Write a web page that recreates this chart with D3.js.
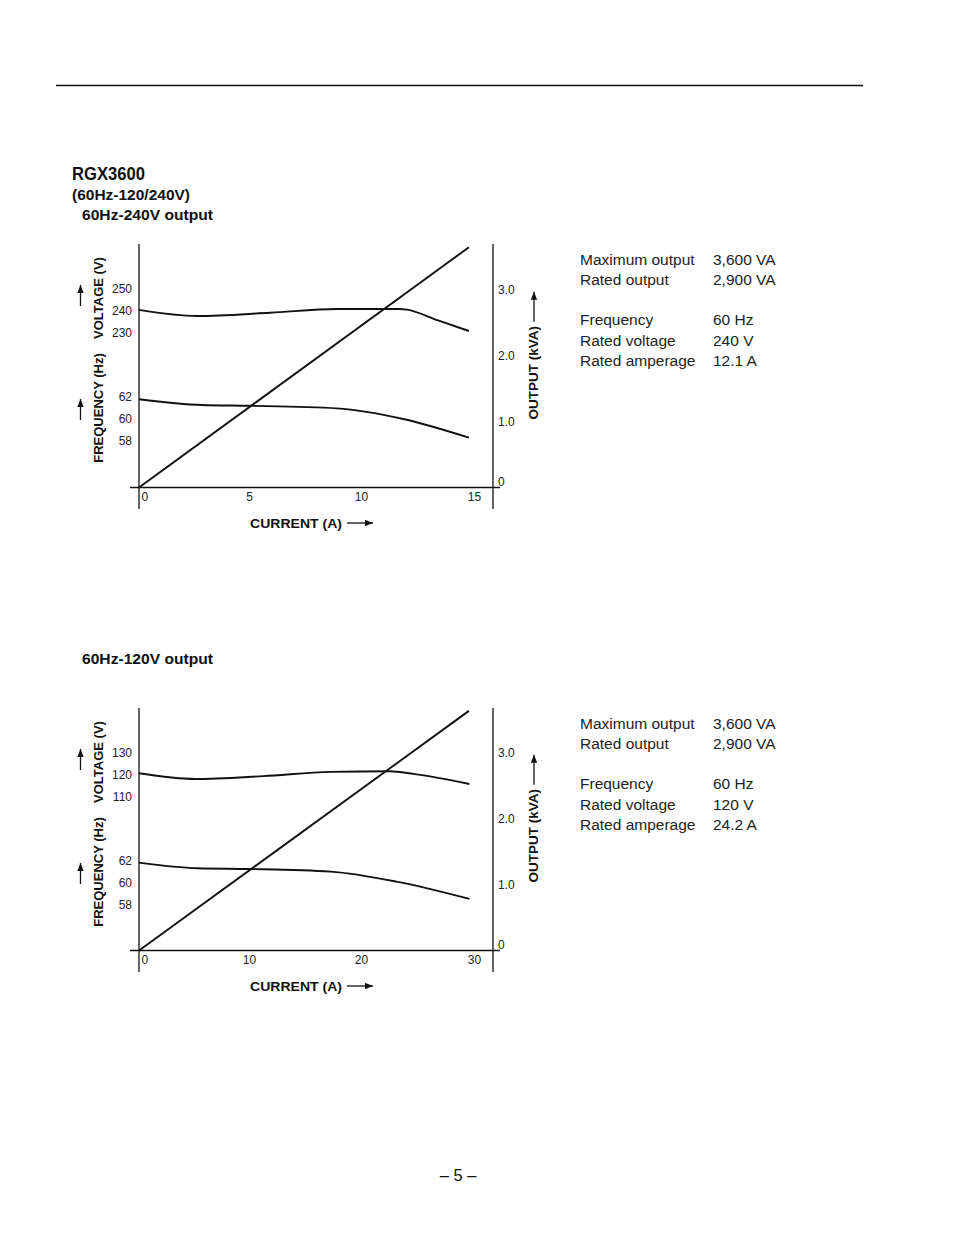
<!DOCTYPE html>
<html>
<head>
<meta charset="utf-8">
<script src="https://cdn.jsdelivr.net/npm/d3@7"></script>
<style>
  html, body { margin: 0; padding: 0; background: #fff; }
  svg { display: block; font-family: "Liberation Sans", Arial, Helvetica, sans-serif; }
</style>
</head>
<body>
<svg id="page" width="954" height="1235"></svg>
<script>
// ---------------- DATA ----------------
const currentTicks240 = [0, 5, 10, 15];
const currentTicks120 = [0, 10, 20, 30];
const voltageTicks240 = [230, 240, 250];
const voltageTicks120 = [110, 120, 130];
const frequencyTicks = [58, 60, 62];
const outputTicks = [0, 1.0, 2.0, 3.0];

// [current (A), voltage (V)]
const voltage240 = [[0, 240.5], [2.6, 237.7], [5.85, 239.2], [8.84, 240.9], [11.65, 240.9], [11.96, 240.6], [13.35, 235.7], [14.73, 230.9]];
// [current (A), frequency (Hz)]
const frequency240 = [[0, 61.8], [2.8, 61.27], [4.96, 61.2], [8.84, 60.97], [11.8, 60.0], [14.73, 58.3]];
// [current (A), output (kVA)]
const output240 = [[0, 0], [14.73, 3.65]];

const voltage120 = [[0, 120.8], [5.0, 118.2], [11.1, 119.5], [17.1, 121.4], [22.4, 121.7], [24.5, 120.5], [29.5, 115.9]];
const frequency120 = [[0, 61.85], [5.2, 61.34], [9.9, 61.27], [17.1, 61.03], [23.0, 60.12], [29.5, 58.55]];
const output120 = [[0, 0], [29.46, 3.64]];

const specLabels = ["Maximum output", "Rated output", "Frequency", "Rated voltage", "Rated amperage"];
const specValues240 = ["3,600 VA", "2,900 VA", "60 Hz", "240 V", "12.1 A"];
const specValues120 = ["3,600 VA", "2,900 VA", "60 Hz", "120 V", "24.2 A"];

// ---------------- DRAW ----------------
const svg = d3.select("#page");
svg.append("rect").attr("width", 954).attr("height", 1235).attr("fill", "#fff");

const defs = svg.append("defs");
defs.append("marker").attr("id", "ah")
  .attr("viewBox", "0 0 10 10").attr("refX", 10).attr("refY", 5)
  .attr("markerWidth", 10).attr("markerHeight", 8)
  .attr("markerUnits", "userSpaceOnUse")
  .attr("orient", "auto")
  .append("path").attr("d", "M0,1 L10,5 L0,9 Z").attr("fill", "#111");

// top rule
svg.append("line").attr("x1", 56).attr("x2", 863).attr("y1", 85.5).attr("y2", 85.5)
  .attr("stroke", "#111").attr("stroke-width", 1.3);

svg.append("text").attr("x", 72).attr("y", 180).text("RGX3600")
  .attr("font-size", 18).attr("font-weight", "bold").attr("fill", "#111")
  .attr("textLength", 73).attr("lengthAdjust", "spacingAndGlyphs");
svg.append("text").attr("x", 72).attr("y", 200).text("(60Hz-120/240V)")
  .attr("font-size", 15).attr("font-weight", "bold").attr("fill", "#111")
  .attr("textLength", 118).attr("lengthAdjust", "spacingAndGlyphs");

function arrow(x1, y1, x2, y2) {
  svg.append("line").attr("x1", x1).attr("y1", y1).attr("x2", x2).attr("y2", y2)
    .attr("stroke", "#111").attr("stroke-width", 1.3).attr("marker-end", "url(#ah)");
}

function drawChart(cfg) {
  const { top, bottom, axisY, left, right, subtitle, subtitleY,
          currentTicks, currentMax, voltTicks, voltDomain, voltRange,
          freqRange, outRange, voltage, frequency, output, specValues, specY } = cfg;

  svg.append("text").attr("x", 82).attr("y", subtitleY).text(subtitle)
    .attr("font-size", 15).attr("font-weight", "bold").attr("fill", "#111")
    .attr("textLength", 131).attr("lengthAdjust", "spacingAndGlyphs");

  const x = d3.scaleLinear().domain([0, currentMax]).range([left, 475]);
  const yV = d3.scaleLinear().domain(voltDomain).range(voltRange);
  const yF = d3.scaleLinear().domain([58, 62]).range(freqRange);
  const yO = d3.scaleLinear().domain([0, 3]).range(outRange);

  const g = svg.append("g");
  // frame lines
  g.append("line").attr("x1", left).attr("x2", left).attr("y1", top).attr("y2", bottom)
    .attr("stroke", "#111").attr("stroke-width", 1.3);
  g.append("line").attr("x1", right).attr("x2", right).attr("y1", top).attr("y2", bottom)
    .attr("stroke", "#111").attr("stroke-width", 1.3);
  g.append("line").attr("x1", 130).attr("x2", 500).attr("y1", axisY).attr("y2", axisY)
    .attr("stroke", "#111").attr("stroke-width", 1.3);

  const tickFont = 12;
  // x axis labels (no tick marks)
  const xAxis = d3.axisBottom(x).tickValues(currentTicks).tickSize(0).tickPadding(5)
    .tickFormat(d3.format("d"));
  const gx = g.append("g").attr("transform", `translate(0,${axisY})`).call(xAxis);
  gx.select(".domain").remove();
  gx.selectAll("text").attr("font-size", tickFont).attr("fill", "#222")
    .attr("font-family", "Liberation Sans, Arial, sans-serif")
    .attr("text-anchor", d => d === 0 ? "start" : "middle")
    .attr("dx", d => d === 0 ? 2 : (d === currentTicks[currentTicks.length - 1] ? -1 : -2));

  // left voltage axis labels
  const vAxis = d3.axisLeft(yV).tickValues(voltTicks).tickSize(0).tickPadding(7)
    .tickFormat(d3.format("d"));
  const gv = g.append("g").attr("transform", `translate(${left},0)`).call(vAxis);
  gv.select(".domain").remove();
  gv.selectAll("text").attr("font-size", tickFont).attr("fill", "#222")
    .attr("font-family", "Liberation Sans, Arial, sans-serif");

  const fAxis = d3.axisLeft(yF).tickValues(frequencyTicks).tickSize(0).tickPadding(7)
    .tickFormat(d3.format("d"));
  const gf = g.append("g").attr("transform", `translate(${left},0)`).call(fAxis);
  gf.select(".domain").remove();
  gf.selectAll("text").attr("font-size", tickFont).attr("fill", "#222")
    .attr("font-family", "Liberation Sans, Arial, sans-serif");

  // right output axis labels
  const oAxis = d3.axisRight(yO).tickValues(outputTicks).tickSize(0).tickPadding(5)
    .tickFormat(d => d === 0 ? "0" : d3.format(".1f")(d));
  const go = g.append("g").attr("transform", `translate(${right},0)`).call(oAxis);
  go.select(".domain").remove();
  go.selectAll("text").attr("font-size", tickFont).attr("fill", "#222")
    .attr("font-family", "Liberation Sans, Arial, sans-serif")
    .attr("dy", d => d === 0 ? "-0.2em" : "0.32em");

  // axis titles
  const midV = (voltRange[0] + voltRange[1]) / 2 - 13;
  const midF = (freqRange[0] + freqRange[1]) / 2 - 11;
  g.append("text").attr("transform", `translate(103,${midV}) rotate(-90)`)
    .attr("text-anchor", "middle").attr("font-size", 13).attr("font-weight", "bold")
    .attr("fill", "#111").text("VOLTAGE (V)");
  g.append("text").attr("transform", `translate(103,${midF}) rotate(-90)`)
    .attr("text-anchor", "middle").attr("font-size", 13).attr("font-weight", "bold")
    .attr("fill", "#111").text("FREQUENCY (Hz)");
  arrow(80.5, voltRange[1] + 17, 80.5, voltRange[1] - 4);
  arrow(80.5, freqRange[1] + 23, 80.5, freqRange[1] + 2);

  const midO = (outRange[0] + outRange[1]) / 2 - 16;
  g.append("text").attr("transform", `translate(538,${midO}) rotate(-90)`)
    .attr("text-anchor", "middle").attr("font-size", 13.5).attr("font-weight", "bold")
    .attr("fill", "#111").text("OUTPUT (kVA)");
  arrow(534, midO - 51, 534, midO - 81);

  g.append("text").attr("x", 250).attr("y", axisY + 40).attr("font-size", 13.5)
    .attr("font-weight", "bold").attr("fill", "#111").text("CURRENT (A)")
    .attr("textLength", 92).attr("lengthAdjust", "spacingAndGlyphs");
  arrow(347, axisY + 35.5, 373, axisY + 35.5);

  // curves
  const lineV = d3.line().x(d => x(d[0])).y(d => yV(d[1])).curve(d3.curveMonotoneX);
  const lineF = d3.line().x(d => x(d[0])).y(d => yF(d[1])).curve(d3.curveMonotoneX);
  const lineO = d3.line().x(d => x(d[0])).y(d => yO(d[1]));
  [[voltage, lineV], [frequency, lineF], [output, lineO]].forEach(([data, fn]) => {
    g.append("path").attr("d", fn(data)).attr("fill", "none")
      .attr("stroke", "#111").attr("stroke-width", 1.9).attr("stroke-linejoin", "round");
  });

  // spec table
  const rowOffsets = [0, 20, 60, 81, 101];
  specLabels.forEach((lab, i) => {
    svg.append("text").attr("x", 580).attr("y", specY + rowOffsets[i]).text(lab)
      .attr("font-size", 15.5).attr("fill", "#222");
    svg.append("text").attr("x", 713).attr("y", specY + rowOffsets[i]).text(specValues[i])
      .attr("font-size", 15.5).attr("fill", "#222");
  });
}

drawChart({
  top: 244, bottom: 509, axisY: 487.5, left: 139, right: 493,
  subtitle: "60Hz-240V output", subtitleY: 220,
  currentTicks: currentTicks240, currentMax: 15,
  voltTicks: voltageTicks240, voltDomain: [230, 250], voltRange: [333, 289],
  freqRange: [441, 397], outRange: [487.5, 290],
  voltage: voltage240, frequency: frequency240, output: output240,
  specValues: specValues240, specY: 265
});

drawChart({
  top: 708, bottom: 972, axisY: 950.5, left: 139, right: 493,
  subtitle: "60Hz-120V output", subtitleY: 664,
  currentTicks: currentTicks120, currentMax: 30,
  voltTicks: voltageTicks120, voltDomain: [110, 130], voltRange: [797, 753],
  freqRange: [905, 861], outRange: [950.5, 753],
  voltage: voltage120, frequency: frequency120, output: output120,
  specValues: specValues120, specY: 729
});

svg.append("text").attr("x", 458).attr("y", 1181).attr("text-anchor", "middle")
  .attr("font-size", 16.5).attr("fill", "#111").text("– 5 –");
</script>
</body>
</html>
